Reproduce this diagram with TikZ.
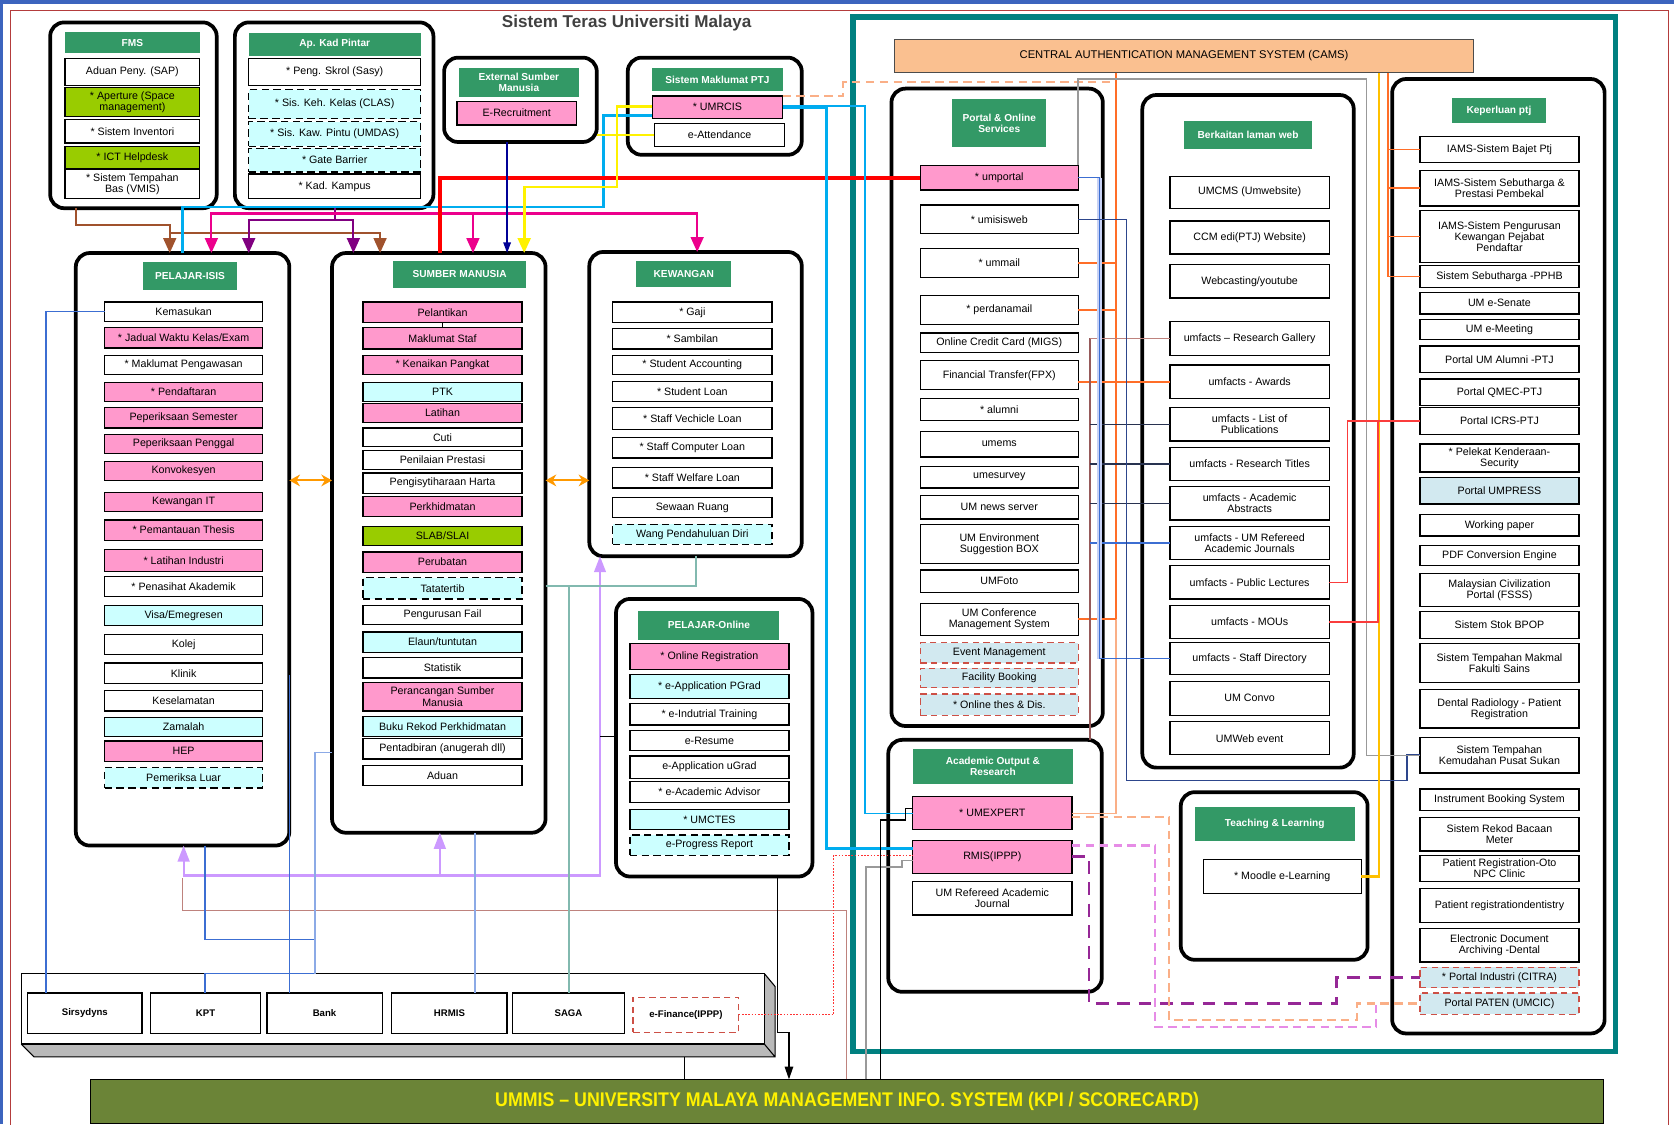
\documentclass[tikz,border=0pt]{standalone}
\usepackage{fontspec}
\setmainfont{Liberation Sans}
\usetikzlibrary{arrows.meta}
\definecolor{hdrgreen}{RGB}{51,153,102}
\definecolor{boxpink}{RGB}{255,153,204}
\definecolor{boxcyan}{RGB}{204,255,255}
\definecolor{boxlime}{RGB}{153,204,0}
\definecolor{boxblue}{RGB}{210,233,240}
\definecolor{cdashred}{RGB}{205,80,70}
\definecolor{cteal}{RGB}{0,128,128}
\definecolor{ccams}{RGB}{250,192,144}
\definecolor{cummis}{RGB}{107,132,55}
\definecolor{cframe}{RGB}{60,100,190}
\definecolor{cborder}{RGB}{180,60,60}
\definecolor{cbrown}{RGB}{160,82,45}
\definecolor{cpurple}{RGB}{128,0,128}
\definecolor{cpurple2}{RGB}{150,40,150}
\definecolor{cpink2}{RGB}{230,140,230}
\definecolor{csky}{RGB}{0,170,240}
\definecolor{cnavy}{RGB}{0,0,150}
\definecolor{cnavy2}{RGB}{45,70,140}
\definecolor{corange}{RGB}{255,153,0}
\definecolor{corange2}{RGB}{255,110,40}
\definecolor{csalmon}{RGB}{250,175,135}
\definecolor{clav}{RGB}{204,153,255}
\definecolor{crosy}{RGB}{190,130,125}
\definecolor{crosy2}{RGB}{150,90,90}
\definecolor{cblue}{RGB}{60,110,210}
\definecolor{clblue}{RGB}{140,170,230}
\definecolor{csaga}{RGB}{130,185,175}
\definecolor{cdark}{RGB}{40,50,80}
\definecolor{cgold}{RGB}{255,192,0}
\definecolor{cred2}{RGB}{250,60,60}
\definecolor{cband}{RGB}{200,210,245}
\newcommand{\bx}[7][sbox]{\node[#1,minimum width={(#5-#3)*1pt},minimum height={(#6-#4)*1pt}] (#2) at ({(#3+#5)/2},{(#4+#6)/2}) {#7};}
\begin{document}
\begin{tikzpicture}[x=1pt,y=-1pt,
  grp/.style={draw,line width=3.5pt,rounded corners=13pt,fill=white,inner sep=0pt,outer sep=0pt},
  hdr/.style={fill=hdrgreen,text=white,font=\bfseries\fontsize{9.5}{10.5}\selectfont,align=center,inner sep=0pt,outer sep=0pt},
  sbox/.style={draw,line width=1.2pt,fill=white,font=\fontsize{10}{10.5}\selectfont,align=center,inner sep=0pt,outer sep=0pt},
  pbox/.style={sbox,fill=boxpink},
  cbox/.style={sbox,fill=boxcyan},
  gbox/.style={sbox,fill=boxlime},
  dbox/.style={sbox,fill=boxcyan,dash pattern=on 7pt off 4pt},
  rbox/.style={sbox,fill=boxblue,draw=cdashred,dash pattern=on 6pt off 4pt},
  xbox/.style={sbox,font=\bfseries\fontsize{9}{10}\selectfont},
  lnbrown/.style={draw=cbrown,line width=2pt},
  lnpurple/.style={draw=cpurple,line width=2pt},
  lnmag/.style={draw=magenta,line width=2pt},
  lncyan/.style={draw=cyan,line width=2.5pt},
  lnsky/.style={draw=csky,line width=1.8pt},
  lnred/.style={draw=red,line width=3.5pt},
  lnnavy/.style={draw=cnavy,line width=1.5pt},
  lnyellow/.style={draw=yellow,line width=2.5pt},
  lnorange/.style={draw=corange,line width=2pt},
  lnlav/.style={draw=clav,line width=2pt},
  lnrosy/.style={draw=crosy,line width=1.5pt},
  lnblue/.style={draw=cblue,line width=1.3pt},
  lnlblue/.style={draw=clblue,line width=1.3pt},
  lnsaga/.style={draw=csaga,line width=1.5pt},
  lnblack/.style={draw=black,line width=1.2pt},
  lnrdot/.style={draw=red!80,line width=1.2pt,dash pattern=on 1.5pt off 1.5pt},
  lngray/.style={draw=gray!80,line width=1.5pt},
  lnodash/.style={draw=csalmon,line width=2pt,dash pattern=on 8pt off 5pt},
  lnorange2/.style={draw=corange2,line width=1.8pt},
  lnsalmon/.style={draw=csalmon,line width=1.8pt},
  lnrosy2/.style={draw=crosy2,line width=2pt},
  lndark/.style={draw=cdark,line width=1.3pt},
  lnnavy2/.style={draw=cnavy2,line width=1.3pt},
  lngold/.style={draw=cgold,line width=2pt},
  lnred2/.style={draw=cred2,line width=1.5pt},
  lnpdash/.style={draw=cpurple2,line width=2.5pt,dash pattern=on 12pt off 8pt},
  lnpkdash/.style={draw=cpink2,line width=2pt,dash pattern=on 8pt off 5pt},
  lnsdash/.style={draw=csalmon,line width=2pt,dash pattern=on 8pt off 5pt},
  tipend/.style={-{Triangle[width=12pt,length=14pt]}},
  tipboth/.style={{Triangle[width=12pt,length=14pt]}-{Triangle[width=12pt,length=14pt]}},
  tipsmall/.style={-{Triangle[width=7pt,length=10pt]}},
  tipdbl/.style={{Stealth[width=11pt,length=10pt]}-{Stealth[width=11pt,length=10pt]}},
  tiplav/.style={-{Triangle[width=11pt,length=15pt]}},
  tiplav2/.style={{Triangle[width=11pt,length=15pt]}-{Triangle[width=11pt,length=15pt]}},
  tipblk/.style={-{Triangle[width=8pt,length=12pt]}}]
\useasboundingbox (0,0) rectangle (1568,1053);
\fill[cframe] (0,0) rectangle (1568,4);
\fill[cframe] (0,0) rectangle (3,1053);
\draw[cborder,line width=1.2pt] (10,1060) -- (10,10) -- (1563,10) -- (1563,1060);
\node[font=\bfseries\fontsize{16}{19}\selectfont,text=black!75] (ttl) at (587,22) {Sistem Teras Universiti Malaya};
\draw[cteal,line width=5pt] (799,16) rectangle (1513,985);

\bx[grp]{fms}{47}{21}{203}{195}{}
\bx[hdr]{fmsH}{61}{30}{187}{50}{FMS}
\bx{sap}{61}{55}{187}{80}{Aduan Peny. (SAP)}
\bx[gbox]{apert}{61}{82}{187}{109}{* Aperture (Space\\management)}
\bx{inv}{61}{112}{187}{134}{* Sistem Inventori}
\bx[gbox]{ict}{61}{137}{187}{158}{* ICT Helpdesk}
\bx{vmis}{61}{159}{187}{186}{* Sistem Tempahan\\Bas (VMIS)}

\bx[grp]{kad}{220}{21}{406}{195}{}
\bx[hdr]{kadH}{233}{31}{394}{52}{Ap. Kad Pintar}
\bx{skrol}{233}{55}{394}{80}{* Peng. Skrol (Sasy)}
\bx[dbox]{clas}{233}{84}{394}{111}{* Sis. Keh. Kelas (CLAS)}
\bx[dbox]{umdas}{233}{114}{394}{137}{* Sis. Kaw. Pintu (UMDAS)}
\bx[dbox]{gate}{233}{139}{394}{161}{* Gate Barrier}
\bx{kadk}{233}{163}{394}{186}{* Kad. Kampus}

\bx[grp]{ext}{416}{54}{559}{133}{}
\bx[hdr]{extH}{430}{64}{542}{91}{External Sumber\\Manusia}
\bx[pbox]{erec}{428}{95}{540}{117}{E-Recruitment}

\bx[grp]{ptj}{588}{54}{751}{145}{}
\bx[hdr]{ptjH}{611}{64}{733}{85}{Sistem Maklumat PTJ}
\bx[pbox]{umrcis}{611}{90}{733}{111}{* UMRCIS}
\bx{eatt}{613}{116}{735}{137}{e-Attendance}

\bx[grp]{isis}{71}{237}{271}{792}{}
\bx[hdr]{isisH}{134}{245}{222}{272}{PELAJAR-ISIS}
\bx{kemas}{98}{283}{246}{301}{Kemasukan}
\bx[pbox]{jadual}{98}{307}{246}{326}{* Jadual Waktu Kelas/Exam}
\bx{awas}{98}{333}{246}{351}{* Maklumat Pengawasan}
\bx[pbox]{daftar}{98}{358}{246}{376}{* Pendaftaran}
\bx[pbox]{psem}{98}{382}{246}{401}{Peperiksaan Semester}
\bx[pbox]{ppeng}{98}{407}{246}{425}{Peperiksaan Penggal}
\bx[pbox]{konvo}{98}{432}{246}{450}{Konvokesyen}
\bx[pbox]{kewit}{98}{461}{246}{479}{Kewangan IT}
\bx[pbox]{thesis}{98}{487}{246}{506}{* Pemantauan Thesis}
\bx[pbox]{latind}{98}{515}{246}{535}{* Latihan Industri}
\bx{penas}{98}{540}{246}{559}{* Penasihat Akademik}
\bx[cbox]{visa}{98}{567}{246}{586}{Visa/Emegresen}
\bx{kolej}{98}{594}{246}{613}{Kolej}
\bx{klinik}{98}{621}{246}{640}{Klinik}
\bx{selamat}{98}{647}{246}{666}{Keselamatan}
\bx[cbox]{zamalah}{98}{672}{246}{690}{Zamalah}
\bx[pbox]{hep}{98}{694}{246}{713}{HEP}
\bx[dbox]{luar}{98}{719}{246}{738}{Pemeriksa Luar}

\bx[grp]{sm}{311}{237}{511}{780}{}
\bx[hdr]{smH}{368}{244}{493}{270}{SUMBER MANUSIA}
\bx[pbox]{pelant}{340}{283}{489}{302}{Pelantikan}
\bx[pbox]{maklum}{340}{307}{489}{327}{Maklumat Staf}
\bx[pbox]{naik}{340}{333}{489}{351}{* Kenaikan Pangkat}
\bx[cbox]{ptk}{340}{358}{489}{376}{PTK}
\bx[pbox]{latihan}{340}{378}{489}{396}{Latihan}
\bx{cuti}{340}{401}{489}{418}{Cuti}
\bx{nilai}{340}{422}{489}{440}{Penilaian Prestasi}
\bx{harta}{340}{443}{489}{462}{Pengisytiharaan Harta}
\bx[pbox]{khidmat}{340}{465}{489}{484}{Perkhidmatan}
\bx[gbox]{slab}{340}{493}{489}{511}{SLAB/SLAI}
\bx[pbox]{ubat}{340}{517}{489}{536}{Perubatan}
\bx[dbox]{tertib}{340}{541}{489}{561}{Tatatertib}
\bx{fail}{340}{567}{489}{585}{Pengurusan Fail}
\bx[cbox]{elaun}{340}{592}{489}{611}{Elaun/tuntutan}
\bx{stat}{340}{616}{489}{635}{Statistik}
\bx[pbox]{rancang}{340}{639}{489}{666}{Perancangan Sumber\\Manusia}
\bx[cbox]{rekod}{340}{671}{489}{690}{Buku Rekod Perkhidmatan}
\bx{tadbir}{340}{692}{489}{711}{Pentadbiran (anugerah dll)}
\bx{aduan}{340}{717}{489}{736}{Aduan}

\bx[grp]{kew}{552}{236}{751}{521}{}
\bx[hdr]{kewH}{596}{244}{685}{269}{KEWANGAN}
\bx{gaji}{574}{283}{723}{302}{* Gaji}
\bx{sambil}{574}{308}{723}{327}{* Sambilan}
\bx{stacc}{574}{333}{723}{351}{* Student Accounting}
\bx{stloan}{574}{357}{723}{376}{* Student Loan}
\bx{vloan}{574}{382}{723}{402}{* Staff Vechicle Loan}
\bx{cloan}{574}{410}{723}{429}{* Staff Computer Loan}
\bx{wloan}{574}{438}{723}{457}{* Staff Welfare Loan}
\bx{sewa}{574}{466}{723}{485}{Sewaan Ruang}
\bx[dbox]{wang}{574}{491}{723}{510}{Wang Pendahuluan Diri}

\bx[grp]{pon}{577}{561}{761}{821}{}
\bx[hdr]{ponH}{598}{572}{730}{599}{PELAJAR-Online}
\bx[pbox]{oreg}{590}{603}{739}{627}{* Online Registration}
\bx[cbox]{epg}{590}{632}{739}{654}{* e-Application PGrad}
\bx{eind}{590}{659}{739}{679}{* e-Indutrial Training}
\bx{eres}{590}{684}{739}{703}{e-Resume}
\bx{eug}{590}{708}{739}{729}{e-Application uGrad}
\bx{eadv}{590}{732}{739}{752}{* e-Academic Advisor}
\bx[cbox]{umctes}{590}{758}{739}{777}{* UMCTES}
\bx[dbox]{eprog}{590}{782}{739}{801}{e-Progress Report}

\bx[sbox,fill=ccams,draw=black!70,line width=1pt,font=\fontsize{10.5}{12}\selectfont]{cams}{838}{37}{1380}{68}{CENTRAL AUTHENTICATION MANAGEMENT SYSTEM (CAMS)}

\bx[grp]{por}{835}{83}{1033}{680}{}
\bx[hdr]{porH}{892}{93}{980}{138}{Portal \& Online\\Services}
\bx[pbox]{umportal}{862}{155}{1010}{178}{* umportal}
\bx{umisis}{862}{192}{1010}{219}{* umisisweb}
\bx{ummail}{862}{233}{1010}{260}{* ummail}
\bx{perdana}{862}{277}{1010}{304}{* perdanamail}
\bx{migs}{862}{312}{1010}{330}{Online Credit Card (MIGS)}
\bx{fpx}{862}{338}{1010}{365}{Financial Transfer(FPX)}
\bx{alumni}{862}{373}{1010}{394}{* alumni}
\bx{umems}{862}{404}{1010}{428}{umems}
\bx{umesurv}{862}{437}{1010}{457}{umesurvey}
\bx{news}{862}{464}{1010}{486}{UM news server}
\bx{envbox}{862}{491}{1010}{528}{UM Environment\\Suggestion BOX}
\bx{umfoto}{862}{534}{1010}{555}{UMFoto}
\bx{umconf}{862}{565}{1010}{595}{UM Conference\\Management System}
\bx[rbox]{event}{862}{602}{1010}{621}{Event Management}
\bx[rbox]{facil}{862}{626}{1010}{644}{Facility Booking}
\bx[rbox]{thes}{862}{650}{1010}{670}{* Online thes \& Dis.}

\bx[grp]{web}{1070}{89}{1268}{719}{}
\bx[hdr]{webH}{1109}{113}{1229}{140}{Berkaitan laman web}
\bx{umcms}{1096}{165}{1245}{195}{UMCMS (Umwebsite)}
\bx{ccm}{1096}{207}{1245}{238}{CCM edi(PTJ) Website)}
\bx{webcast}{1096}{248}{1245}{279}{Webcasting/youtube}
\bx{gallery}{1096}{301}{1245}{333}{umfacts – Research Gallery}
\bx{awards}{1096}{342}{1245}{373}{umfacts - Awards}
\bx{pubs}{1096}{382}{1245}{413}{umfacts - List of\\Publications}
\bx{titles}{1096}{419}{1245}{450}{umfacts - Research Titles}
\bx{abstr}{1096}{456}{1245}{487}{umfacts - Academic\\Abstracts}
\bx{journ}{1096}{493}{1245}{524}{umfacts - UM Refereed\\Academic Journals}
\bx{lect}{1096}{530}{1245}{561}{umfacts - Public Lectures}
\bx{mous}{1096}{567}{1245}{598}{umfacts - MOUs}
\bx{staffd}{1096}{602}{1245}{632}{umfacts - Staff Directory}
\bx{convo}{1096}{638}{1245}{670}{UM Convo}
\bx{webev}{1096}{676}{1245}{707}{UMWeb event}

\bx[grp]{kep}{1304}{74}{1503}{968}{}
\bx[hdr]{kepH}{1360}{92}{1448}{115}{Keperluan ptj}
\bx{bajet}{1330}{128}{1479}{152}{IAMS-Sistem Bajet Ptj}
\bx{sebut}{1330}{160}{1479}{193}{IAMS-Sistem Sebutharga \&\\Prestasi Pembekal}
\bx{pkpp}{1330}{197}{1479}{246}{IAMS-Sistem Pengurusan\\Kewangan Pejabat\\Pendaftar}
\bx{pphb}{1330}{249}{1479}{269}{Sistem Sebutharga -PPHB}
\bx{senate}{1330}{274}{1479}{294}{UM e-Senate}
\bx{meeting}{1330}{299}{1479}{318}{UM e-Meeting}
\bx{alumptj}{1330}{324}{1479}{349}{Portal UM Alumni -PTJ}
\bx{qmec}{1330}{355}{1479}{380}{Portal QMEC-PTJ}
\bx{icrs}{1330}{382}{1479}{407}{Portal ICRS-PTJ}
\bx{pelekat}{1330}{416}{1479}{442}{* Pelekat Kenderaan-\\Security}
\bx[sbox,fill=boxblue]{umpress}{1330}{447}{1479}{472}{Portal UMPRESS}
\bx{wpaper}{1330}{482}{1479}{502}{Working paper}
\bx{pdf}{1330}{511}{1479}{530}{PDF Conversion Engine}
\bx{fsss}{1330}{537}{1479}{568}{Malaysian Civilization\\Portal (FSSS)}
\bx{bpop}{1330}{573}{1479}{598}{Sistem Stok BPOP}
\bx{makmal}{1330}{603}{1479}{639}{Sistem Tempahan Makmal\\Fakulti Sains}
\bx{dental}{1330}{646}{1479}{682}{Dental Radiology - Patient\\Registration}
\bx{sukan}{1330}{691}{1479}{724}{Sistem Tempahan\\Kemudahan Pusat Sukan}
\bx{instr}{1330}{739}{1479}{759}{Instrument Booking System}
\bx{meter}{1330}{766}{1479}{797}{Sistem Rekod Bacaan\\Meter}
\bx{oto}{1330}{801}{1479}{826}{Patient Registration-Oto\\NPC Clinic}
\bx{dentis}{1330}{832}{1479}{864}{Patient registrationdentistry}
\bx{edad}{1330}{870}{1479}{901}{Electronic Document\\Archiving -Dental}
\bx[rbox]{citra}{1330}{906}{1479}{925}{* Portal Industri (CITRA)}
\bx[rbox]{paten}{1330}{930}{1479}{950}{Portal PATEN (UMCIC)}

\bx[grp]{aor}{832}{693}{1032}{929}{}
\bx[hdr]{aorH}{855}{702}{1005}{734}{Academic Output \&\\Research}
\bx[pbox]{umexp}{855}{746}{1004}{777}{* UMEXPERT}
\bx[pbox]{rmis}{855}{787}{1004}{818}{RMIS(IPPP)}
\bx{umraj}{855}{826}{1004}{857}{UM Refereed Academic\\Journal}

\bx[grp]{tl}{1106}{742}{1281}{899}{}
\bx[hdr]{tlH}{1119}{756}{1269}{788}{Teaching \& Learning}
\bx{moodle}{1127}{805}{1275}{837}{* Moodle e-Learning}

\fill[gray!55] (20,978) -- (716,978) -- (716,912) -- (726,924) -- (726,990) -- (32,990) -- cycle;
\draw[line width=1pt] (20,978) -- (32,990) -- (726,990) -- (726,924) -- (716,912) (716,978) -- (726,990);
\bx{sysluar}{20}{912}{716}{978}{}
\bx[xbox]{sirs}{26}{930}{133}{968}{Sirsydyns}
\bx[xbox]{kpt}{141}{930}{244}{968}{KPT}
\bx[xbox]{bank}{250}{930}{358}{968}{Bank}
\bx[xbox]{hrmis}{367}{930}{475}{968}{HRMIS}
\bx[xbox]{saga}{480}{930}{585}{968}{SAGA}
\bx[xbox,draw=cdashred,dash pattern=on 6pt off 4pt]{efin}{593}{934}{692}{967}{e-Finance(IPPP)}

\bx[sbox,fill=cummis,line width=1pt,text=yellow,font=\bfseries\fontsize{18.5}{21}\selectfont]{ummis}{85}{1011}{1502}{1052}{\scalebox{0.9}[1]{UMMIS – UNIVERSITY MALAYA MANAGEMENT INFO. SYSTEM (KPI / SCORECARD)}}

\draw[lnbrown,tipend] (fms.south -| 71,0) |- (159,211) -- (isis.north -| 159,0);
\draw[lnbrown,tipend] (159,218) -| (sm.north -| 356,0);
\draw[lnpurple,tipend] (kad.south -| 314,0) |- (233,206) -- (isis.north -| 233,0);
\draw[lnpurple,tipend] (314,206) -| (sm.north -| 331,0);
\draw[lnmag,tipboth] (isis.north -| 198,0) |- (653,200) -- (kew.north -| 653,0);
\draw[lnmag,tipend] (443,200) -- (sm.north -| 443,0);
\draw[lncyan] (isis.north -| 171,0) |- (565,194) |- (umrcis.west |- 0,108);
\draw[lnred] (sm.north -| 412,0) |- (umportal.west);
\draw[lnnavy,tipsmall] (ext.south -| 475,0) -- (sm.north -| 475,0);
\draw[lnyellow,tipend] (umrcis.west |- 0,100) -| (578,175) -| (sm.north -| 491,0);
\draw[lnyellow] (eatt.west) -- (ext.east |- eatt.west);
\draw[lncyan] (umrcis.east |- 0,101) -| (774,795) -- (rmis.west |- 0,795);
\draw[lnsky] (umrcis.east |- 0,99) -| (810,762) -- (umexp.west |- 0,762);
\draw[lnorange,tipdbl] (isis.east |- 0,450) -- (sm.west |- 0,450);
\draw[lnorange,tipdbl] (sm.east |- 0,450) -- (kew.west |- 0,450);
\draw[line width=0.8pt] (pelant.south) -- (maklum.north);

\draw[lnrosy] (ummis.north -| 793,0) |- (171,853) -- (171,822);
\draw[lnlav,tiplav2] (isis.south -| 172,0) |- (562,820) -- (kew.south -| 562,0);
\draw[lnlav,tiplav] (412,820) -- (sm.south -| 412,0);
\draw[line width=1pt] (pon.west |- 0,690) -- (562,690);
\draw[lnblue] (sirs.north -| 43,0) |- (kemas.west);
\draw[lnblue] (kpt.north -| 192,0) |- (295,912);
\draw[lnblue] (isis.south -| 192,0) |- (295,880);
\draw[lnblue] (bank.north -| 271,0) -- (isis.east |- 0,632);
\draw[lnlblue] (sysluar.north -| 295,0) |- (sm.west |- 0,705);
\draw[lnlblue] (hrmis.north -| 445,0) -- (sm.south -| 445,0);
\draw[lnsaga] (saga.north -| 533,0) -- (533,549);
\draw[lnsaga] (sm.east |- 0,549) -| (kew.south -| 652,0);
\draw[lnblack,tipblk] (pon.south -| 728,0) |- (739,967) -- (ummis.north -| 739,0);
\draw[lnblack] (sysluar.south -| 641,0) ++(0,12) -- (ummis.north -| 641,0);
\draw[lnrdot] (efin.east) -| (781,801) -- (rmis.west |- 0,801);
\draw[lngray] (ummis.north -| 811,0) |- (845,812) |- (rmis.west |- 0,806);
\draw[lnblack] (ummis.north -| 825,0) |- (848,768) |- (umexp.west |- 0,757);

\draw[lnodash] (umrcis.north east) -| (790,77) -- (1045,77);
\draw[lnorange2] (cams.south -| 1045,0) -- (1045,580);
\draw[lnsalmon] (1045,580) |- (umexp.east |- 0,762);
\draw[lnorange2] (ummail.east) -- (ummail.east -| 1045,0);
\draw[lnorange2] (perdana.east) -- (perdana.east -| 1045,0);
\draw[lnorange2] (umconf.east) -- (umconf.east -| 1045,0);
\draw[lnorange2] (fpx.east |- awards.west) -- (awards.west);
\draw[lnrosy2] (aor.north -| 1021,0) -- (gallery.west -| 1021,0);
\draw[lnrosy] (gallery.west -| 1021,0) -- (gallery.west);
\draw[lndark] (pubs.west -| 1021,0) -- (pubs.west);
\draw[lndark] (titles.west -| 1021,0) -- (titles.west);
\draw[lndark] (abstr.west -| 1021,0) -- (abstr.west);
\draw[lnblue] (journ.west -| 1021,0) -- (journ.west);
\draw[cband,line width=5pt] (umportal.east -| 1030,0) -- (staffd.west -| 1030,0);
\draw[lnblue] (umportal.east) -| (staffd.west -| 1030,0) -- (staffd.west);
\draw[lnnavy2] (umisis.east) -| (1055,731) -| (1318,707) -- (sukan.west |- 0,707);
\draw[lngray] (umportal.north east) |- (1280,74) |- (sukan.west);
\draw[lngold] (cams.south -| 1292,0) |- (moodle.east);
\draw[lnorange2] (cams.south -| 1300,0) |- (pphb.west);
\draw[lnorange2] (bajet.west -| 1300,0) -- (bajet.west);
\draw[lnorange2] (sebut.west -| 1300,0) -- (sebut.west);
\draw[lnorange2] (pkpp.west -| 1300,0) -- (pkpp.west);
\draw[lnred2] (lect.east) -| (icrs.west -| 1262,0) -- (icrs.west);
\draw[lnred2] (mous.east) -| (icrs.west -| 1291,0);
\draw[lnpdash] (rmis.east) -| (1020,940) -| (citra.west -| 1252,0) -- (citra.west);
\draw[lnpkdash] (rmis.east |- 0,792) -| (1082,962) -| (paten.west -| 1289,0) -- (paten.west);
\draw[lnsdash] (umexp.east |- 0,765) -| (1095,955) -| (paten.west -| 1271,0) -- (paten.west);
\end{tikzpicture}
\end{document}
